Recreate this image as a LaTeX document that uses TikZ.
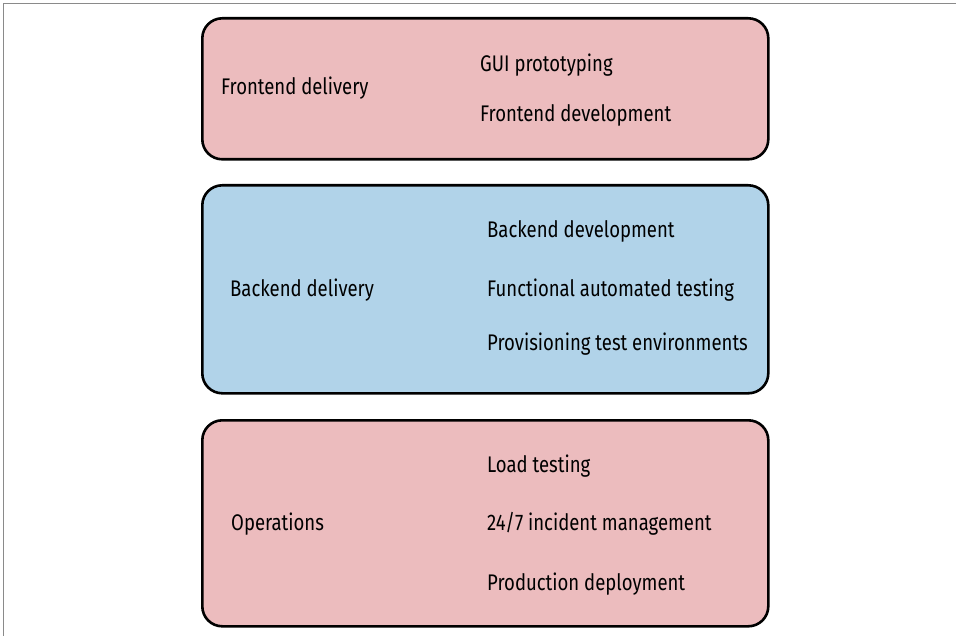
\documentclass[tikz,border=0pt]{standalone}
\usepackage{fontspec}
\setmainfont[FakeStretch=0.82]{Fira Sans}
\definecolor{pinkfill}{HTML}{ECBCBE}
\definecolor{bluefill}{HTML}{B1D3E9}
\definecolor{framegray}{HTML}{8A8A8A}
\begin{document}
\begin{tikzpicture}[x=1pt,y=-1pt,
  group/.style={draw=black,line width=2.6pt,rounded corners=20pt},
  lbl/.style={anchor=base west,inner sep=0pt,font=\fontsize{22.6}{26}\selectfont,text=black}]
\useasboundingbox (0,0) rectangle (956,636);
\fill[white] (0,0) rectangle (956,636);
\coordinate (fa) at (3.5,640);
\coordinate (fb) at (3.5,3.5);
\coordinate (fc) at (960,3.5);
\draw[framegray,line width=1pt] (fa) -- (fb) -- (fc);
% boxes
\node[group,fill=pinkfill,minimum width=566pt,minimum height=141pt,anchor=north west] (b1) at (201,17) {};
\node[group,fill=bluefill,minimum width=566pt,minimum height=208pt,anchor=north west] (b2) at (201,184) {};
\node[group,fill=pinkfill,minimum width=566pt,minimum height=206pt,anchor=north west] (b3) at (201,419) {};
% texts
\node[lbl] (t1) at (221,95) {Frontend delivery};
\node[lbl] (t1a) at (480,72) {GUI prototyping};
\node[lbl] (t1b) at (480,122) {Frontend development};
\node[lbl] (t2) at (230,297) {Backend delivery};
\node[lbl] (t2a) at (487,238) {Backend development};
\node[lbl] (t2b) at (487,297) {Functional automated testing};
\node[lbl] (t2c) at (487,351) {Provisioning test environments};
\node[lbl] (t3) at (231,530) {Operations};
\node[lbl] (t3a) at (487,472) {Load testing};
\node[lbl] (t3b) at (487,530) {24/7 incident management};
\node[lbl] (t3c) at (487,590) {Production deployment};
\end{tikzpicture}
\end{document}
